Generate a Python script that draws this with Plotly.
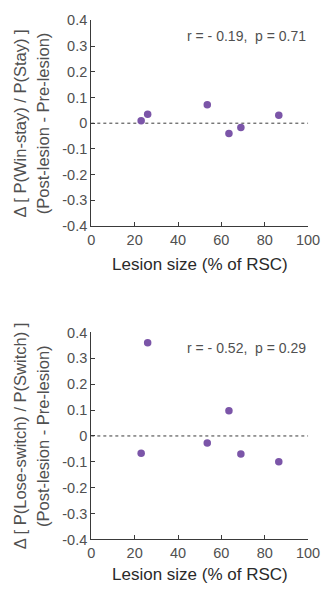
import plotly.graph_objects as go

lesion_size = [23, 26, 53.5, 63.5, 69, 86.5]
win_stay_delta = [0.010, 0.035, 0.072, -0.040, -0.017, 0.031]
lose_switch_delta = [-0.067, 0.360, -0.027, 0.097, -0.070, -0.100]

x_ticks = [0, 20, 40, 60, 80, 100]
y_ticks = [-0.4, -0.3, -0.2, -0.1, 0, 0.1, 0.2, 0.3, 0.4]
y_tick_text = ["-0.4", "-0.3", "-0.2", "-0.1", "0", "0.1", "0.2", "0.3", "0.4"]

stats_top = "r = - 0.19,  p = 0.71"
stats_bottom = "r = - 0.52,  p = 0.29"
ytitle_top = ["Δ [ P(Win-stay) / P(Stay) ]", "(Post-lesion - Pre-lesion)"]
ytitle_bottom = ["Δ [ P(Lose-switch) / P(Switch) ]", "(Post-lesion - Pre-lesion)"]
xtitle = "Lesion size (% of RSC)"

W, H = 335, 602
FONT = "Liberation Sans, Arial, sans-serif"
MARK = "#7b55a8"
AXC = "#3a3a3a"
TXT = "#505050"

xdom = [91.7 / W, 319.3 / W]
ydom_top = [1 - 224 / H, 1 - 12.7 / H]
ydom_bot = [1 - 546 / H, 1 - 333.3 / H]

fig = go.Figure()
fig.add_trace(go.Scatter(x=lesion_size, y=win_stay_delta, mode="markers",
                         marker=dict(color=MARK, size=7.5), xaxis="x", yaxis="y",
                         showlegend=False, cliponaxis=False))
fig.add_trace(go.Scatter(x=lesion_size, y=lose_switch_delta, mode="markers",
                         marker=dict(color=MARK, size=7.5), xaxis="x2", yaxis="y2",
                         showlegend=False, cliponaxis=False))

axis_common = dict(showgrid=False, zeroline=False, showline=True, linecolor=AXC,
                   linewidth=1.3, ticks="inside", ticklen=4, tickwidth=1,
                   tickcolor=AXC, tickfont=dict(family=FONT, size=14.5, color=TXT),
                   fixedrange=True)

fig.update_layout(
    width=W, height=H,
    margin=dict(l=0, r=0, t=0, b=0),
    paper_bgcolor="white", plot_bgcolor="white",
    xaxis=dict(domain=xdom, range=[0, 100], tickvals=x_ticks, anchor="y", **axis_common),
    yaxis=dict(domain=ydom_top, range=[-0.4, 0.4], tickvals=y_ticks, ticktext=y_tick_text,
               anchor="x", **axis_common),
    xaxis2=dict(domain=xdom, range=[0, 100], tickvals=x_ticks, anchor="y2", **axis_common),
    yaxis2=dict(domain=ydom_bot, range=[-0.4, 0.4], tickvals=y_ticks, ticktext=y_tick_text,
                anchor="x2", **axis_common),
)

for xr, yr in [("x", "y"), ("x2", "y2")]:
    fig.add_shape(type="line", xref=f"{xr} domain", yref=yr, x0=0, x1=1, y0=0, y1=0,
                  line=dict(color=AXC, width=1, dash="dot"), layer="below")

anns = []
for xr, yr, txt in [("x", "y", stats_top), ("x2", "y2", stats_bottom)]:
    anns.append(dict(xref=xr, yref=yr, x=100, y=0.34, text=txt, showarrow=False,
                     xanchor="right", yanchor="middle",
                     font=dict(family=FONT, size=14, color=TXT)))

for (lines, dom) in [(ytitle_top, ydom_top), (ytitle_bottom, ydom_bot)]:
    yc = (dom[0] + dom[1]) / 2
    for i, (ln, xc) in enumerate(zip(lines, [17, 41])):
        anns.append(dict(xref="paper", yref="paper", x=xc / W, y=yc, text=ln,
                         showarrow=False, textangle=-90, xanchor="center", yanchor="middle",
                         font=dict(family=FONT, size=16.5, color=TXT)))

for yc in [1 - 263 / H, 1 - 581.7 / H]:
    anns.append(dict(xref="paper", yref="paper", x=(xdom[0] + xdom[1]) / 2, y=yc,
                     text=xtitle, showarrow=False, xanchor="center", yanchor="middle",
                     font=dict(family=FONT, size=17, color="#2a2a2a")))

fig.update_layout(annotations=anns)
fig.write_html("out.html")
